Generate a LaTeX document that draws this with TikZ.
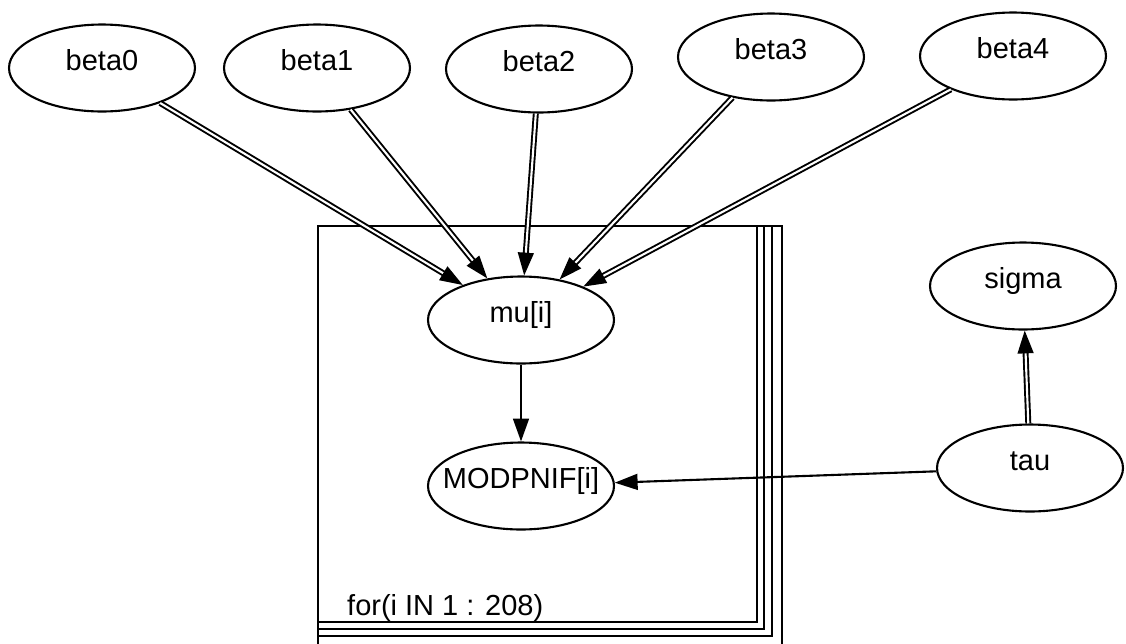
\documentclass[tikz,border=0pt]{standalone}
\usepackage{fontspec}
\setmainfont{Liberation Sans}
\usetikzlibrary{arrows.meta,positioning,shapes.geometric}

\begin{document}
\begin{tikzpicture}[
  x=0.02cm, y=-0.02cm,
  >={Triangle[length=13pt,width=9pt]},
  var/.style={draw, ellipse, line width=1.2pt,
              minimum width=3.72cm, minimum height=1.74cm,
              text height=12pt, text depth=9pt,
              font=\fontsize{16.5}{19}\selectfont},
  arr/.style={->, line width=1.2pt},
  dbl/.style={->, double, double distance=1.2pt, line width=1.1pt},
  plate/.style={line width=1.5pt},
]
\useasboundingbox (0,0) rectangle (1126,643);

% ---- plate for i ----
\foreach \r/\b in {757/622, 764/629, 772/636, 782/660}
  \draw[plate] (318,226) rectangle (\r,\b);
\node[anchor=base west, font=\fontsize{16.5}{19}\selectfont] (lbl) at (341,615) {for(i IN 1 : 208)};

% ---- coefficients ----
\node[var] (b0) at (102, 68) {beta0};
\node[var] (b1) at (317, 68) {beta1};
\node[var] (b2) at (539, 69) {beta2};
\node[var] (b3) at (771, 57) {beta3};
\node[var] (b4) at (1013,56) {beta4};

% ---- inside the plate ----
\node[var] (mu)  at (521, 320) {mu[i]};
\node[var, inner xsep=-8pt] (mod) at (521, 486) {MODPNIF[i]};

% ---- precision ----
\node[var] (sig) at (1023, 286) {sigma};
\node[var] (tau) at (1030, 468) {tau};

% ---- arrows ----
\foreach \b in {b0,b1,b2,b3,b4}
  \draw[dbl] (\b) -- (mu);
\draw[arr] (mu)  -- (mod);
\draw[arr] (tau) -- (mod);
\draw[dbl] (tau) -- (sig);

\end{tikzpicture}
\end{document}
